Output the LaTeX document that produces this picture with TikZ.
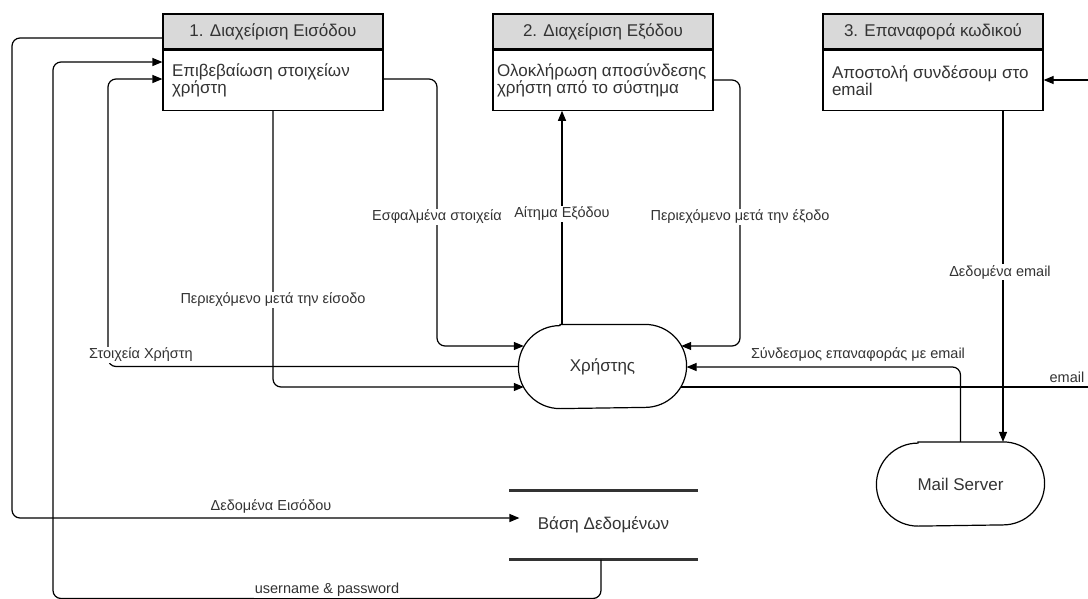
\documentclass[tikz,border=0pt]{standalone}
\usepackage{fontspec}
\setmainfont{Liberation Sans}
\usetikzlibrary{arrows.meta,calc}
\definecolor{hdrgray}{HTML}{D9D9D9}
\definecolor{ink}{HTML}{333333}

% outline of a terminator: flat top and bottom, round ends
\newcommand\stadiumoutline[1]{%
  \draw ($(#1.north west)+(41.5pt,0)$) -- ($(#1.north east)-(41.5pt,0)$)
    arc[start angle=90,end angle=-90,radius=41.5pt]
    -- ($(#1.south west)+(41.5pt,0)$)
    arc[start angle=270,end angle=90,radius=41.5pt] -- cycle;}

\begin{document}
\begin{tikzpicture}[x=1pt,y=-1pt,
  line width=1.2pt,
  boxfont/.style={font=\fontsize{17}{17}\selectfont},
  hdr/.style={draw, fill=hdrgray, minimum width=220pt, minimum height=35pt,
    inner sep=0pt, boxfont, text=ink},
  bodybox/.style={draw, minimum width=220pt, minimum height=60pt, inner sep=0pt},
  bodytxt/.style={align=left, inner sep=0pt, boxfont, text=ink, anchor=west},
  term/.style={minimum width=167pt, minimum height=83pt, inner sep=0pt,
    boxfont, text=ink},
  store/.style={minimum width=187pt, minimum height=68pt, inner sep=0pt,
    boxfont, text=ink},
  wire/.style={rounded corners=8pt},
  flow/.style={wire, -{Triangle[length=10pt,width=8pt]}},
  lbl/.style={fill=white, inner sep=1pt,
    font=\fontsize{14.5}{16}\selectfont, text=ink},
]
\useasboundingbox (0,0) rectangle (1088,598);
\clip (0,0) rectangle (1088,598);

% processes
\node[hdr] (h1) at (273,31.5) {1. Διαχείριση Εισόδου};
\node[bodybox, anchor=north] (b1) at (h1.south) {};
\node[bodytxt] (t1) at ([xshift=9pt]b1.west) {Επιβεβαίωση στοιχείων\\χρήστη};

\node[hdr] (h2) at (603,31.5) {2. Διαχείριση Εξόδου};
\node[bodybox, anchor=north] (b2) at (h2.south) {};
\node[bodytxt] (t2) at ([xshift=4pt]b2.west) {Ολοκλήρωση αποσύνδεσης\\χρήστη από το σύστημα};

\node[hdr] (h3) at (933,31.5) {3. Επαναφορά κωδικού};
\node[bodybox, anchor=north] (b3) at (h3.south) {};
\node[bodytxt] (t3) at ([xshift=9pt]b3.west) {Αποστολή συνδέσουμ στο\\email};

% external entities
\node[term] (xr) at (602.5,366.5) {Χρήστης};
\stadiumoutline{xr}
\node[term] (ms) at (960.5,484) {Mail Server};
\stadiumoutline{ms}

% data store
\node[store] (db) at (603.5,525) {Βάση Δεδομένων};
\draw[line width=3pt, ink] (db.north west) -- (db.north east);
\draw[line width=3pt, ink] (db.south west) -- (db.south east);

% data flows
\draw[flow] (h1.west |- 0,38) -- (12,38) -- (12,518)
  -- ($(db.west |- 0,518)+(10pt,0)$);
\draw[flow] (601,0 |- db.south) -- (601,598.5) -- (53,598.5) -- (53,62)
  -- (b1.west |- 0,62);
\draw[flow] (xr.west) -- (108,366.5) -- (108,79) -- (b1.west |- 0,79);
\draw[flow] (b1.south) -- (273,387) -- ($(xr.west |- 0,387)+(5.4pt,0)$);
\draw[flow] (b1.east |- 0,79) -- (437,79) -- (437,346)
  -- ($(xr.west |- 0,346)+(5.4pt,0)$);
\draw[flow] (562,0 |- xr.north) -- (562,0 |- b2.south);
\draw[flow] (b2.east |- 0,80) -- (740,80) -- (740,346)
  -- ($(xr.east |- 0,346)-(5.4pt,0)$);
\draw[flow] (ms.north) -- (960.5,367) -- (xr.east |- 0,367);
\draw[wire] ($(xr.east |- 0,387)-(5.4pt,0)$) -- (1100,387);
\draw[flow] (1100,80) -- (b3.east |- 0,80);
\draw[flow] (1003,0 |- b3.south) -- (1003,0 |- ms.north);

% flow labels
\node[lbl] (l1) at (271,506) {Δεδομένα Εισόδου};
\node[lbl] (l2) at (327,590) {username \& password};
\node[lbl] (l3) at (141,355) {Στοιχεία Χρήστη};
\node[lbl] (l4) at (273,300) {Περιεχόμενο μετά την είσοδο};
\node[lbl] (l5) at (437,217) {Εσφαλμένα στοιχεία};
\node[lbl] (l6) at (562,214) {Αίτημα Εξόδου};
\node[lbl] (l7) at (740,217) {Περιεχόμενο μετά την έξοδο};
\node[lbl] (l8) at (858,355) {Σύνδεσμος επαναφοράς με email};
\node[lbl] (l9) at (1067,377) {email};
\node[lbl] (l10) at (1000,272) {Δεδομένα email};
\end{tikzpicture}
\end{document}
